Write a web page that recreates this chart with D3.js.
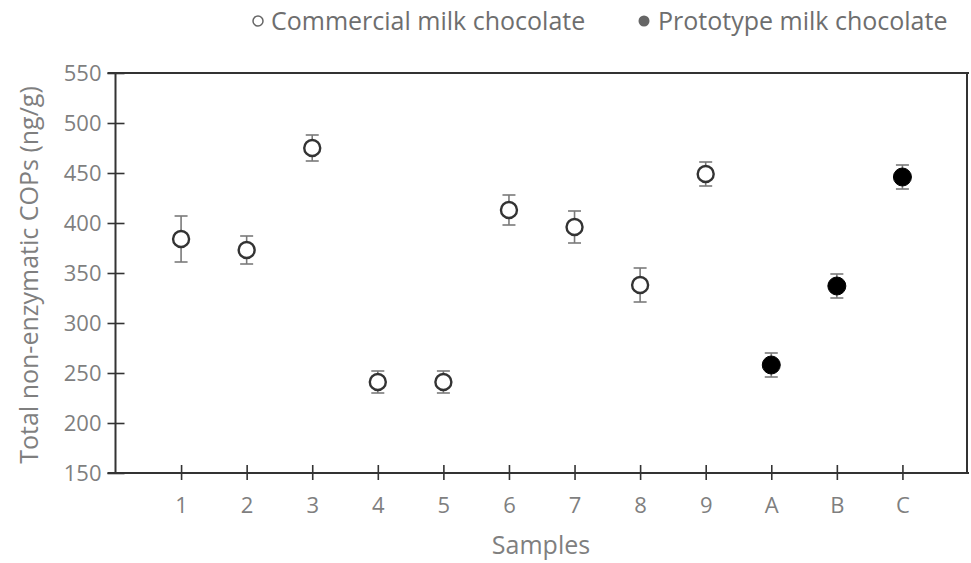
<!DOCTYPE html>
<html><head><meta charset="utf-8">
<script src="https://cdn.jsdelivr.net/npm/d3@7"></script>
<style>body{margin:0;background:#fff}svg{display:block}text{font-family:"Open Sans",sans-serif}</style>
</head><body><svg id="c" width="971" height="563"></svg>
<script>
const categories = ["1","2","3","4","5","6","7","8","9","A","B","C"];
const groups = ["Commercial","Commercial","Commercial","Commercial","Commercial","Commercial","Commercial","Commercial","Commercial","Prototype","Prototype","Prototype"];
const means = [384, 373, 475, 241, 241, 413, 396, 338, 449, 258, 337, 446];
const sds = [23, 14, 13, 11, 11, 15, 16, 17, 12, 12, 12, 12];
const yTicks = [150, 200, 250, 300, 350, 400, 450, 500, 550];
const legendLabels = ["Commercial milk chocolate", "Prototype milk chocolate"];

const svg = d3.select("#c");
const x = d3.scaleLinear().domain([0, 13]).range([115.5, 968]);
const y = d3.scaleLinear().domain([150, 550]).range([473, 73]);
const axisCol = "#333", labCol = "#7f7f7f";

// y axis
const ya = svg.append("g").attr("transform", `translate(${x(0)},0)`)
  .call(d3.axisLeft(y).tickValues(yTicks).tickSize(0).tickPadding(14));
ya.select(".domain").remove();
ya.selectAll("text").attr("font-size", 22).attr("fill", labCol).attr("font-family", "Open Sans");
ya.selectAll(".tick").append("line").attr("x1", -8).attr("x2", 9).attr("stroke", axisCol).attr("stroke-width", 1.6);

// x axis
const xa = svg.append("g").attr("transform", `translate(0,${y(150)})`)
  .call(d3.axisBottom(x).tickValues(d3.range(1, 13)).tickFormat(d => categories[d - 1]).tickSize(0).tickPadding(24));
xa.select(".domain").remove();
xa.selectAll("text").attr("font-size", 22).attr("fill", labCol).attr("font-family", "Open Sans");
xa.selectAll(".tick").append("line").attr("y1", -8).attr("y2", 7).attr("stroke", axisCol).attr("stroke-width", 1.6);

// frame
const fr = svg.append("g").attr("stroke", axisCol).attr("stroke-width", 2).attr("fill", "none");
fr.append("line").attr("x1", x(0)).attr("x2", x(0)).attr("y1", y(550)).attr("y2", y(150));
fr.append("line").attr("x1", x(0) - 8).attr("x2", 969).attr("y1", y(150)).attr("y2", y(150));
fr.append("line").attr("x1", x(0) - 8).attr("x2", 969).attr("y1", y(550)).attr("y2", y(550));
fr.append("line").attr("x1", 967).attr("x2", 967).attr("y1", y(550)).attr("y2", y(150));

// error bars
const data = means.map((m, i) => ({i: i + 1, m, s: sds[i], g: groups[i]}));
const eb = svg.append("g").attr("stroke", "#7a7a7a").attr("stroke-width", 1.6);
data.forEach(d => {
  eb.append("line").attr("x1", x(d.i)).attr("x2", x(d.i)).attr("y1", y(d.m + d.s)).attr("y2", y(d.m - d.s));
  eb.append("line").attr("x1", x(d.i) - 6.5).attr("x2", x(d.i) + 6.5).attr("y1", y(d.m + d.s)).attr("y2", y(d.m + d.s));
  eb.append("line").attr("x1", x(d.i) - 6.5).attr("x2", x(d.i) + 6.5).attr("y1", y(d.m - d.s)).attr("y2", y(d.m - d.s));
});

// points
svg.append("g").selectAll("circle").data(data).join("circle")
  .attr("cx", d => x(d.i)).attr("cy", d => y(d.m))
  .attr("r", d => d.g === "Commercial" ? 8 : 9)
  .attr("fill", d => d.g === "Commercial" ? "#fff" : "#000")
  .attr("stroke", d => d.g === "Commercial" ? "#333" : "#000")
  .attr("stroke-width", d => d.g === "Commercial" ? 2.4 : 1);

// axis titles
svg.append("text").attr("x", 541).attr("y", 554).attr("text-anchor", "middle")
  .attr("font-size", 25).attr("fill", labCol).text("Samples");
svg.append("text").attr("transform", "translate(38,275) rotate(-90)").attr("text-anchor", "middle")
  .attr("font-size", 25).attr("fill", labCol).text("Total non-enzymatic COPs (ng/g)");

// legend
const lg = svg.append("g");
lg.append("circle").attr("cx", 258).attr("cy", 21).attr("r", 5).attr("fill", "#fff").attr("stroke", "#666").attr("stroke-width", 1.5);
lg.append("text").attr("x", 271).attr("y", 30).attr("font-size", 25).attr("fill", "#6e6e6e").text(legendLabels[0]);
lg.append("circle").attr("cx", 644).attr("cy", 21).attr("r", 5.5).attr("fill", "#666");
lg.append("text").attr("x", 658).attr("y", 30).attr("font-size", 25).attr("fill", "#6e6e6e").text(legendLabels[1]);
</script></body></html>
